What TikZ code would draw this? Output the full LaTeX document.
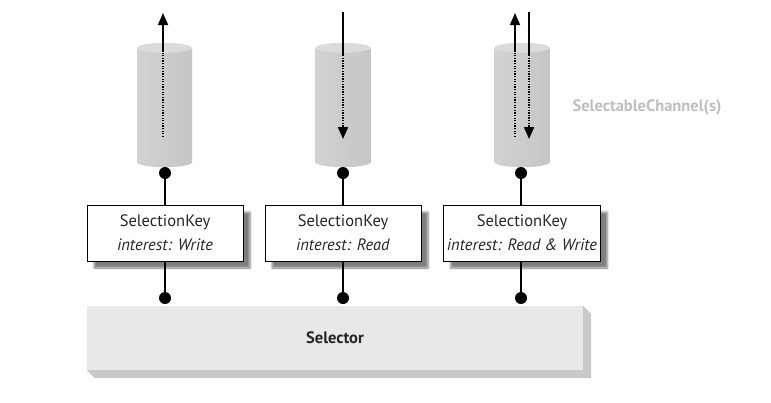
\documentclass[tikz,border=0pt]{standalone}
\usepackage{fontspec}
\setmainfont{PT Sans}
\usetikzlibrary{arrows.meta,positioning,calc,shadows.blur}

\begin{document}
\begin{tikzpicture}[
  x=1pt, y=-1pt,
  body/.style={left color=gray!35, middle color=gray!5, right color=gray!45},
  chan/.style={body, minimum width=55pt, minimum height=114pt, inner sep=0pt},
  chantop/.style={fill=gray!28},
  keybox/.style={draw, thick, fill=white, minimum width=156pt, minimum height=56pt, align=center,
    font=\fontsize{16.5}{24}\selectfont, text=black!85,
    blur shadow={shadow xshift=7pt, shadow yshift=-7pt, shadow blur steps=6, shadow opacity=50}},
  sel/.style={fill=gray!18, minimum width=496pt, minimum height=64pt, inner sep=0pt,
    font=\fontsize{16.5}{20}\selectfont\bfseries, text=black!85},
  side/.style={fill=gray!42},
  lbl/.style={text=gray!50, font=\fontsize{16.5}{20}\selectfont\bfseries},
  knob/.style={circle, fill=black, minimum size=12pt, inner sep=0pt},
  wire/.style={line width=1.7pt},
  arr/.style={wire, -{Triangle[length=12pt, width=10pt]}},
  dotline/.style={line width=1.9pt, dash pattern=on 1.3pt off 1.3pt},
  dotarr/.style={dotline, -{Triangle[length=12pt, width=10pt]}}
]
\useasboundingbox (0,0) rectangle (771,402);

% channels
\node[chan] (ch1) at (164.5,105) {};
\shade[body] (ch1.south) ellipse [x radius=27.5, y radius=5];
\fill[chantop] (ch1.north) ellipse [x radius=27.5, y radius=5];
\node[chan] (ch2) at (343,105) {};
\shade[body] (ch2.south) ellipse [x radius=27.5, y radius=5];
\fill[chantop] (ch2.north) ellipse [x radius=27.5, y radius=5];
\node[chan] (ch3) at (522,105) {};
\shade[body] (ch3.south) ellipse [x radius=27.5, y radius=5];
\fill[chantop] (ch3.north) ellipse [x radius=27.5, y radius=5];

\node[lbl] (chlbl) at (647,107) {SelectableChannel(s)};

% data flow through the channels
\coordinate (up1a) at (163,137);
\coordinate (up1b) at (163,52);
\coordinate (up1c) at (163,13);
\draw[dotline] (up1a) -- (up1b);
\draw[arr] (up1b) -- (up1c);

\coordinate (dn2a) at (343,12);
\coordinate (dn2b) at (343,55);
\coordinate (dn2c) at (343,139);
\draw[wire] (dn2a) -- (dn2b);
\draw[dotarr] (dn2b) -- (dn2c);

\coordinate (up3a) at (515,137);
\coordinate (up3b) at (515,52);
\coordinate (up3c) at (515,13);
\draw[dotline] (up3a) -- (up3b);
\draw[arr] (up3b) -- (up3c);

\coordinate (dn3a) at (529,12);
\coordinate (dn3b) at (529,55);
\coordinate (dn3c) at (529,139);
\draw[wire] (dn3a) -- (dn3b);
\draw[dotarr] (dn3b) -- (dn3c);

% selection keys
\node[keybox] (key1) at (165,233) {SelectionKey\\\textit{interest: Write}};
\node[keybox] (key2) at (343,233) {SelectionKey\\\textit{interest: Read}};
\node[keybox] (key3) at (522,233) {SelectionKey\\\textit{interest: Read \& Write}};

% selector
\node[sel] (sel) at (335,338) {Selector};
\fill[side] (sel.north east) -- ([shift={(8,8)}]sel.north east) -- ([shift={(8,8)}]sel.south east)
  -- ([shift={(8,8)}]sel.south west) -- (sel.south west) -- (sel.south east) -- cycle;

\node[knob] (k1) at (165,173) {};
\node[knob] (k2) at (343,173) {};
\node[knob] (k3) at (521,173) {};
\node[knob] (s1) at (165,298) {};
\node[knob] (s2) at (343,298) {};
\node[knob] (s3) at (521,298) {};

\draw[wire] (k1) -- (key1.north);
\draw[wire] (k2) -- (key2.north);
\draw[wire] (k3) -- (k3 |- key3.north);
\draw[wire] (key1.south) -- (s1);
\draw[wire] (key2.south) -- (s2);
\draw[wire] (key3.south -| s3) -- (s3);
\end{tikzpicture}
\end{document}
